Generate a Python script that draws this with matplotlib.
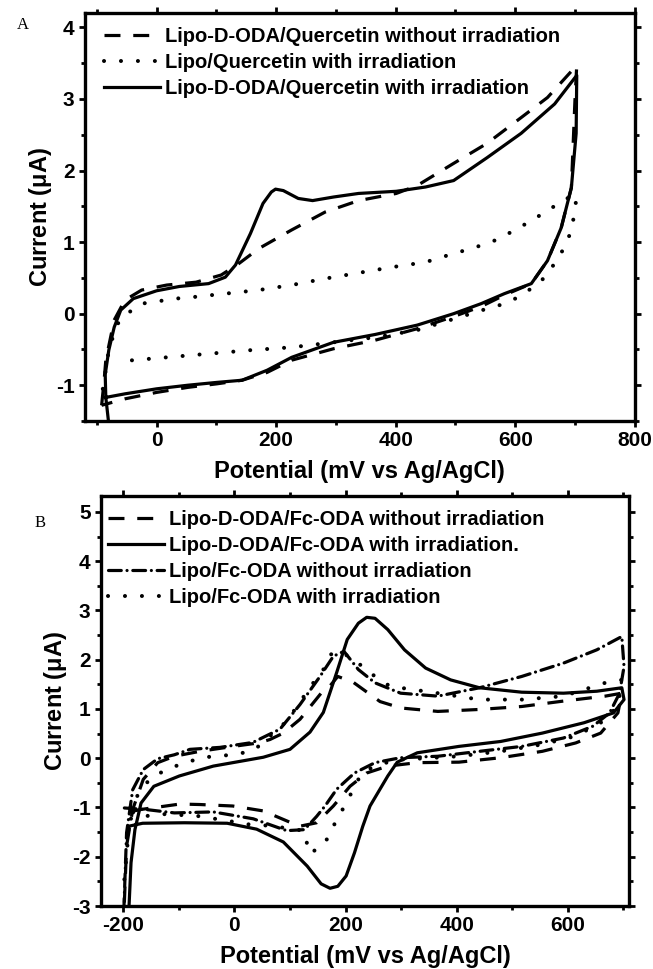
import matplotlib
matplotlib.use("Agg")
import matplotlib.pyplot as plt
from matplotlib.ticker import MultipleLocator

# ---------------- Panel A data ----------------
a_solid_x = [-79, -85, -86, -80, -71, -60, -39, 0, 38, 87, 115, 132, 157, 178, 192, 199, 212, 237, 261, 296, 338,
             401, 450, 497, 553, 610, 666, 703,
             702, 694, 677, 654, 627, 582, 543, 497, 436, 366, 296, 226, 185, 143, 101, 52, 0, -53, -85]
a_solid_y = [-1.62, -1.17, -0.85, -0.51, -0.19, 0.05, 0.21, 0.32, 0.38, 0.42, 0.51, 0.68, 1.12, 1.54, 1.70, 1.74, 1.72, 1.61,
             1.58, 1.63, 1.68, 1.71, 1.77, 1.86, 2.18, 2.52, 2.93, 3.33,
             2.52, 1.76, 1.20, 0.74, 0.42, 0.28, 0.14, 0.00, -0.16, -0.29, -0.40, -0.61, -0.79, -0.93, -0.96, -1.00,
             -1.05, -1.12, -1.17]

a_dash_x = [-92, -88, -85, -71, -53, -25, 17, 66, 108, 136, 171, 226, 282, 338, 401, 436, 497, 553, 610, 654, 703,
            700, 694, 677, 654, 627, 582, 543, 497, 436, 366, 296, 226, 185, 143, 101, 52, 0, -53, -92]
a_dash_y = [-1.28, -0.95, -0.65, -0.09, 0.19, 0.33, 0.40, 0.44, 0.54, 0.69, 0.91, 1.17, 1.42, 1.58, 1.68, 1.79, 2.10,
            2.38, 2.74, 3.02, 3.47,
            2.98, 1.76, 1.20, 0.74, 0.42, 0.26, 0.10, -0.04, -0.21, -0.37, -0.49, -0.65, -0.82, -0.93, -0.98, -1.03,
            -1.10, -1.19, -1.28]

a_dot_x = [-90, -80, -67, -53, -25, 0, 31, 59, 115, 171, 226, 282, 338, 394, 450, 497, 531, 565, 598, 627, 660, 682,
           703, 699, 694, 682, 666, 644, 615, 587, 553, 526, 436, 366, 296, 226, 157, 87, 17, -53, -60]
a_dot_y = [-1.05, -0.51, -0.16, -0.02, 0.14, 0.17, 0.21, 0.23, 0.28, 0.33, 0.40, 0.49, 0.57, 0.65, 0.72, 0.84, 0.92,
           1.02, 1.16, 1.30, 1.47, 1.60, 1.65, 1.40, 1.16, 0.92, 0.70, 0.46, 0.28, 0.15, 0.07, 0.00, -0.23, -0.33,
           -0.40, -0.47, -0.51, -0.56, -0.61, -0.66, -0.67]

a_labels = ["Lipo-D-ODA/Quercetin without irradiation",
            "Lipo/Quercetin with irradiation",
            "Lipo-D-ODA/Quercetin with irradiation"]

# ---------------- Panel B data ----------------
b_solid_x = [-190, -186, -179, -168, -145, -99, -38, 52, 100, 136, 160, 184, 203, 223, 238, 253, 276, 306, 344, 389,
             441, 517, 592, 652, 697,
             701, 682, 629, 554, 479, 404, 329, 293, 276, 244, 231, 216, 201, 186, 172, 156, 131, 88, 40, -13, -90,
             -165, -190]
b_solid_y = [-3.1, -2.12, -1.45, -0.91, -0.57, -0.36, -0.16, 0.02, 0.18, 0.53, 0.93, 1.74, 2.41, 2.74, 2.86, 2.84,
             2.61, 2.20, 1.83, 1.59, 1.43, 1.34, 1.32, 1.36, 1.43,
             1.19, 0.92, 0.72, 0.51, 0.34, 0.24, 0.11, -0.08, -0.36, -0.97, -1.38, -1.92, -2.39, -2.60, -2.64,
             -2.55, -2.19, -1.70, -1.44, -1.32, -1.31, -1.32, -1.38]

b_dash_x = [-198, -194, -183, -164, -138, -108, -62, -2, 43, 64, 88, 118, 156, 167, 186, 214, 262, 299, 366, 441, 517,
            592, 667, 697,
            690, 659, 614, 554, 479, 404, 329, 276, 238, 208, 178, 148, 118, 100, 52, -3, -62, -98, -168, -198]
b_dash_y = [-2.93, -1.78, -1.04, -0.43, -0.09, 0.04, 0.14, 0.24, 0.31, 0.38, 0.51, 0.79, 1.32, 1.40, 1.66, 1.54, 1.15,
            1.02, 0.95, 0.99, 1.05, 1.16, 1.26, 1.32,
            0.92, 0.51, 0.31, 0.14, 0.01, -0.08, -0.09, -0.16, -0.30, -0.57, -0.97, -1.31, -1.38, -1.30, -1.07,
            -0.97, -0.94, -0.93, -1.04, -1.11]

b_dashdot_x = [-199, -194, -183, -164, -138, -108, -80, -26, 33, 82, 118, 154, 178, 197, 223, 253, 299, 366, 441, 517,
               592, 652, 697,
               701, 693, 675, 645, 592, 517, 441, 366, 299, 253, 216, 184, 163, 148, 126, 94, 34, -38, -108, -160, -198]
b_dashdot_y = [-3.1, -1.51, -0.64, -0.23, -0.01, 0.07, 0.18, 0.22, 0.32, 0.59, 1.09, 1.66, 2.07, 2.17, 1.80, 1.53,
               1.32, 1.26, 1.43, 1.66, 1.93, 2.20, 2.47,
               1.86, 1.32, 0.92, 0.65, 0.41, 0.24, 0.14, 0.04, 0.01, -0.09, -0.30, -0.63, -0.97, -1.18, -1.45, -1.47,
               -1.23, -1.09, -1.11, -1.04, -1.01]

b_dot_x = [-198, -190, -175, -153, -123, -86, -53, 6, 37, 94, 115, 136, 160, 176, 186, 208, 226, 253, 280, 366, 441,
           517, 592, 667, 697,
           690, 659, 614, 554, 479, 404, 329, 291, 253, 232, 223, 201, 178, 163, 136, 124, 64, 22, -12, -68, -135,
           -198]
b_dot_y = [-2.46, -1.45, -0.77, -0.43, -0.23, -0.08, 0.02, 0.08, 0.18, 0.75, 1.09, 1.44, 1.80, 2.15, 2.14, 2.07,
           1.90, 1.66, 1.46, 1.32, 1.19, 1.19, 1.26, 1.53, 1.59,
           1.05, 0.72, 0.45, 0.28, 0.14, 0.04, -0.01, -0.03, -0.16, -0.28, -0.43, -0.91, -1.38, -1.72, -1.94,
           -1.47, -1.37, -1.34, -1.27, -1.17, -1.13, -1.25]

b_labels = ["Lipo-D-ODA/Fc-ODA without irradiation",
            "Lipo-D-ODA/Fc-ODA with irradiation.",
            "Lipo/Fc-ODA without irradiation",
            "Lipo/Fc-ODA with irradiation"]

xlabel = "Potential (mV vs Ag/AgCl)"
ylabel = "Current ($\\mathregular{\\mu}$A)"

# ---------------- Fonts ----------------
sans = "Liberation Sans"
plt.rcParams["font.family"] = [sans, "DejaVu Sans"]
plt.rcParams["font.weight"] = "bold"
plt.rcParams["axes.unicode_minus"] = False
plt.rcParams["mathtext.fontset"] = "custom"
plt.rcParams["mathtext.rm"] = "DejaVu Serif"

LW = 2.3
DASH = (0, (5.0, 4.0))
DOT = (0, (0.01, 4.2))
DASHDOT = (0, (4.0, 1.8, 0.01, 1.8))

fig = plt.figure(figsize=(6.53, 9.69), dpi=100)
axA = fig.add_axes([0.130, 0.5655, 0.842, 0.421])
axB = fig.add_axes([0.1547, 0.065, 0.8086, 0.423])


def style_axes(ax, xmaj, xmin, ymaj, ymin):
    for s in ax.spines.values():
        s.set_linewidth(2.4)
    ax.xaxis.set_major_locator(MultipleLocator(xmaj))
    ax.xaxis.set_minor_locator(MultipleLocator(xmin))
    ax.yaxis.set_major_locator(MultipleLocator(ymaj))
    ax.yaxis.set_minor_locator(MultipleLocator(ymin))
    ax.tick_params(which="both", direction="out", width=2.0, top=True, right=True,
                   labeltop=False, labelright=False)
    ax.tick_params(which="major", length=4, labelsize=15, pad=3.5)
    ax.tick_params(which="minor", length=3)
    for lab in ax.get_xticklabels() + ax.get_yticklabels():
        lab.set_fontweight("bold")


legprop = {"family": [sans, "DejaVu Sans"], "weight": "bold", "size": 14.5}

# Panel A
axA.plot(a_dash_x, a_dash_y, color="black", lw=LW, ls=DASH, dash_capstyle="butt", label=a_labels[0])
axA.plot(a_dot_x, a_dot_y, color="black", lw=LW + 0.6, ls=DOT, dash_capstyle="round", label=a_labels[1])
axA.plot(a_solid_x, a_solid_y, color="black", lw=LW, ls="-", solid_joinstyle="round", label=a_labels[2])
axA.set_xlim(-120, 800)
axA.set_ylim(-1.5, 4.2)
style_axes(axA, 200, 100, 1, 0.5)
axA.set_xlabel(xlabel, fontsize=17, fontweight="bold", labelpad=7)
axA.set_ylabel(ylabel, fontsize=17, fontweight="bold", labelpad=1.5)
axA.legend(loc="upper left", bbox_to_anchor=(0.01, 1.0), frameon=False, handlelength=2.75,
           handletextpad=0.25, labelspacing=0.35, borderaxespad=0.3, prop=legprop)

# Panel B
axB.plot(b_dash_x, b_dash_y, color="black", lw=LW, ls=DASH, label=b_labels[0])
axB.plot(b_solid_x, b_solid_y, color="black", lw=LW, ls="-", solid_joinstyle="round", label=b_labels[1])
axB.plot(b_dashdot_x, b_dashdot_y, color="black", lw=LW, ls=DASHDOT, dash_capstyle="round", label=b_labels[2])
axB.plot(b_dot_x, b_dot_y, color="black", lw=LW + 0.6, ls=DOT, dash_capstyle="round", label=b_labels[3])
axB.set_xlim(-240, 710)
axB.set_ylim(-3, 5.32)
style_axes(axB, 200, 100, 1, 0.5)
axB.set_xlabel(xlabel, fontsize=17, fontweight="bold", labelpad=7)
axB.set_ylabel(ylabel, fontsize=17, fontweight="bold", labelpad=2)
axB.legend(loc="upper left", bbox_to_anchor=(-0.013, 1.0), frameon=False, handlelength=2.75,
           handletextpad=0.25, labelspacing=0.35, borderaxespad=0.3, prop=legprop)

fig.text(17 / 653, 1 - 25 / 969, "A", family="Liberation Serif", fontweight="normal", fontsize=12,
         ha="left", va="center")
fig.text(35 / 653, 1 - 523 / 969, "B", family="Liberation Serif", fontweight="normal", fontsize=12,
         ha="left", va="center")

fig.savefig("out.png", dpi=100)
